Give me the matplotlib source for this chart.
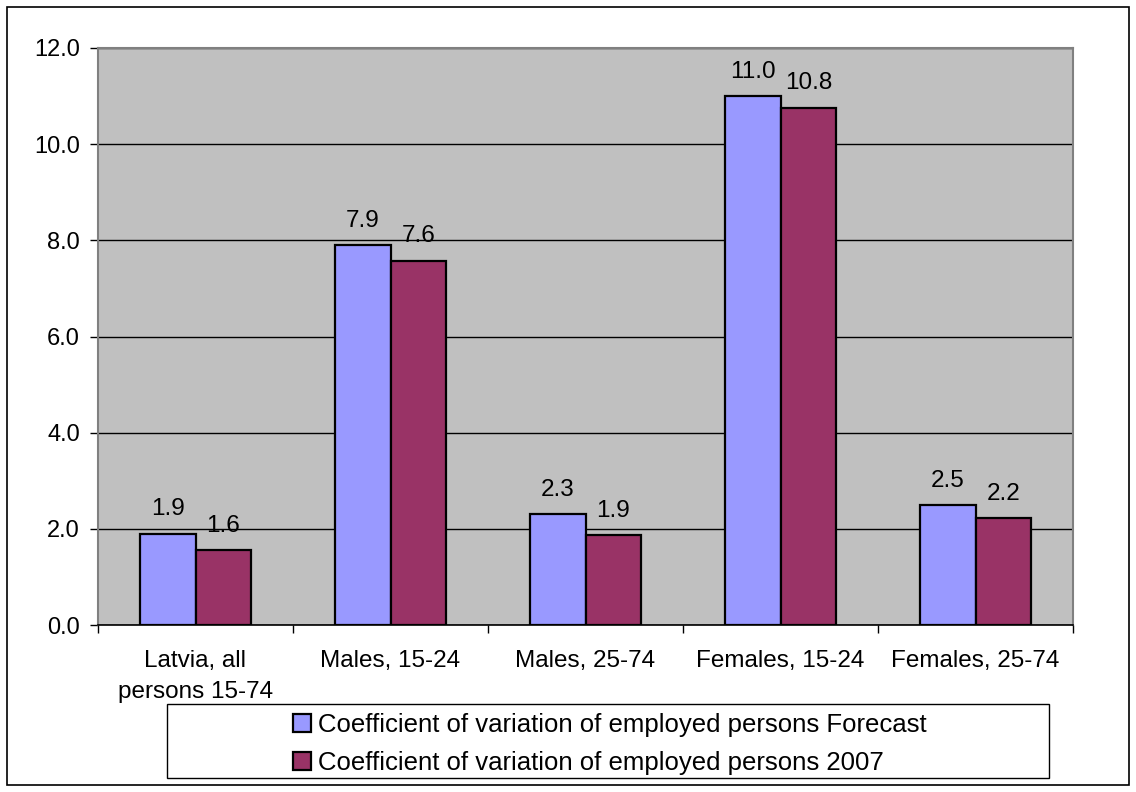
import matplotlib.pyplot as plt
import numpy as np
from matplotlib.patches import Rectangle

plt.rcParams['font.family'] = ['Liberation Sans', 'DejaVu Sans']

# Data
categories = ["Latvia, all\npersons 15-74", "Males, 15-24", "Males, 25-74",
              "Females, 15-24", "Females, 25-74"]
forecast = [1.90, 7.90, 2.30, 11.00, 2.50]
year2007 = [1.56, 7.58, 1.87, 10.76, 2.22]
series_names = ["Coefficient of variation of employed persons Forecast",
                "Coefficient of variation of employed persons 2007"]
colors = ["#9999FF", "#993366"]

fig = plt.figure(figsize=(11.36, 7.92), dpi=100)
ax = fig.add_axes([98 / 1136, 1 - 625 / 792, (1073 - 98) / 1136, (625 - 48) / 792])
ax.set_facecolor("#C0C0C0")

x = np.arange(len(categories))
w = 0.287
bars = []
for i, vals in enumerate([forecast, year2007]):
    b = ax.bar(x - w / 2 + i * w, vals, width=w, color=colors[i],
               edgecolor="black", linewidth=1.6, zorder=3, label=series_names[i])
    bars.append(b)
    for rect, v in zip(b, vals):
        ax.annotate(f"{v:.1f}", (rect.get_x() + rect.get_width() / 2, v),
                    xytext=(0, 9.5), textcoords="offset points",
                    ha="center", va="bottom", fontsize=17.5)

ax.set_xlim(-0.5, len(categories) - 0.5)
ax.set_ylim(0, 12)
ax.set_yticks(np.arange(0, 12.1, 2))
ax.set_yticklabels([f"{t:.1f}" for t in np.arange(0, 12.1, 2)])
ax.yaxis.grid(True, color="black", linewidth=1.0, zorder=1)
ax.set_axisbelow(True)

# category labels between boundary ticks
ax.set_xticks(np.arange(-0.5, len(categories), 1))
ax.set_xticklabels([])
ax.set_xticks(x, minor=True)
ax.set_xticklabels(categories, minor=True, fontsize=17.5, linespacing=1.55)
ax.tick_params(axis="x", which="minor", length=0, pad=18)
ax.tick_params(axis="x", which="major", length=6, width=1, color="black")
ax.tick_params(axis="y", length=6, width=1, pad=7, labelsize=17)

for s in ["top", "right", "left"]:
    ax.spines[s].set_color("#808080")
    ax.spines[s].set_linewidth(1.5)
ax.spines["bottom"].set_color("black")
ax.spines["bottom"].set_linewidth(1.2)

# Legend
fig.legend(handles=bars, labels=series_names, loc="center",
           bbox_to_anchor=(610 / 1136, 1 - 744 / 792), frameon=False,
           fontsize=18.5, handlelength=0.7, handleheight=0.7,
           handletextpad=0.25, labelspacing=0.55, borderpad=0)
fig.patches.append(Rectangle((167 / 1136, 1 - 778 / 792), (1049 - 167) / 1136,
                             (778 - 704) / 792, transform=fig.transFigure,
                             fill=False, edgecolor="black", linewidth=1.0))

# outer border
fig.patches.append(Rectangle((7 / 1136, 1 - 785 / 792), (1129 - 7) / 1136,
                             (785 - 7) / 792, transform=fig.transFigure,
                             fill=False, edgecolor="black", linewidth=1.2))

fig.savefig("out.png", dpi=100)
